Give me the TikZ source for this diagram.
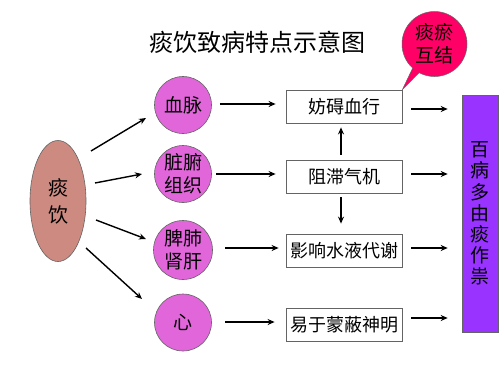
\documentclass[tikz,border=0pt]{standalone}
\usepackage{fontspec}
\newfontfamily\cjk{Noto Sans CJK SC}
\usetikzlibrary{arrows.meta,shapes.geometric,shapes.callouts}
\definecolor{ellfill}{RGB}{205,138,128}
\definecolor{cirfill}{RGB}{224,102,218}
\definecolor{calfill}{RGB}{255,0,102}
\definecolor{purp}{RGB}{153,51,255}
\definecolor{bord}{RGB}{100,100,100}
\tikzset{
  organ/.style={circle,draw=bord,line width=0.6pt,fill=cirfill,minimum size=57pt,inner sep=0pt,align=center,font=\cjk\fontsize{19}{22}\selectfont},
  effbox/.style={rectangle,draw=bord,line width=0.8pt,fill=white,minimum width=116pt,minimum height=33pt,inner sep=0pt,font=\cjk\fontsize{18}{20}\selectfont},
  arr/.style={line width=1.4pt,-{Stealth[length=7pt,width=6pt]}}
}
\begin{document}
\begin{tikzpicture}[x=1pt,y=-1pt]
\useasboundingbox (0,0) rectangle (500,380);
\fill[white] (0,0) rectangle (500,380);
\node[font=\cjk\fontsize{24}{26}\selectfont] (title) at (257,42) {痰饮致病特点示意图};
\node[ellipse,draw=bord,line width=0.6pt,fill=ellfill,minimum width=56pt,minimum height=121pt,inner sep=0pt,align=center,font=\cjk\fontsize{20}{27}\selectfont] (e) at (58,201) {痰\\饮};
\node[organ] (c1) at (183,105) {血脉};
\node[organ,align=center,font=\cjk\fontsize{19}{23}\selectfont] (c2) at (183,174) {脏腑\\组织};
\node[organ,minimum size=59pt,font=\cjk\fontsize{19}{23}\selectfont] (c3) at (183,250) {脾肺\\肾肝};
\node[organ] (c4) at (183,322.5) {心};
\node[effbox] (b1) at (344,106.5) {妨碍血行};
\node[effbox] (b2) at (344,176.5) {阻滞气机};
\node[effbox] (b3) at (344,250.5) {影响水液代谢};
\node[effbox] (b4) at (344,324.5) {易于蒙蔽神明};
\node[rectangle,draw=bord,line width=0.6pt,fill=purp,minimum width=36pt,minimum height=237pt,inner sep=0pt,align=center,font=\cjk\fontsize{19}{21.2}\selectfont] (p) at (480,213.5) {百\\病\\多\\由\\痰\\作\\祟};
\node[ellipse callout,draw=bord,line width=0.5pt,fill=calfill,minimum width=65pt,minimum height=65pt,inner sep=0pt,align=center,callout absolute pointer={(b1.north east)},callout pointer arc=14,font=\cjk\fontsize{19}{23}\selectfont] (cal) at (434.5,44) {痰瘀\\互结};
% arrows from ellipse
\coordinate (s1) at (91,151); \coordinate (t1) at (146,118);
\coordinate (s2) at (95,183); \coordinate (t2) at (142,174);
\coordinate (s3) at (96,220); \coordinate (t3) at (146,239);
\coordinate (s4) at (86,248); \coordinate (t4) at (142,299);
\draw[arr] (s1) -- (t1);
\draw[arr] (s2) -- (t2);
\draw[arr] (s3) -- (t3);
\draw[arr] (s4) -- (t4);
% organ to effect
\draw[arr] ([xshift=8pt,yshift=1pt]c1.east) -- ([xshift=-10pt,yshift=2.5pt]b1.west);
\draw[arr] ([xshift=4.5pt]c2.east) -- ([xshift=-10pt,yshift=2.5pt]b2.west);
\draw[arr] ([xshift=12.5pt,yshift=2pt]c3.east) -- ([xshift=-7pt,yshift=2.5pt]b3.west);
\draw[arr] ([xshift=13.5pt,yshift=0.5pt]c4.east) -- ([xshift=-11pt,yshift=2.5pt]b4.west);
% effect to purple
\draw[arr] ([xshift=9pt,yshift=-2.5pt]b1.east) -- ([xshift=-14pt,yshift=-2.5pt]b1.east -| p.west);
\draw[arr] ([xshift=9pt,yshift=2.5pt]b2.east) -- ([xshift=-14pt,yshift=2.5pt]b2.east -| p.west);
\draw[arr] ([xshift=9pt,yshift=2.5pt]b3.east) -- ([xshift=-14pt,yshift=2.5pt]b3.east -| p.west);
\draw[arr] ([xshift=9pt,yshift=6.5pt]b4.east) -- ([xshift=-14pt,yshift=6.5pt]b4.east -| p.west);
% vertical
\draw[arr] ([xshift=-3pt,yshift=5pt]b2.north) -- ([xshift=-3pt,yshift=-4pt]b1.south);
\draw[arr] ([xshift=-3pt,yshift=-4pt]b2.south) -- ([xshift=-3pt,yshift=10pt]b3.north);
\end{tikzpicture}
\end{document}
